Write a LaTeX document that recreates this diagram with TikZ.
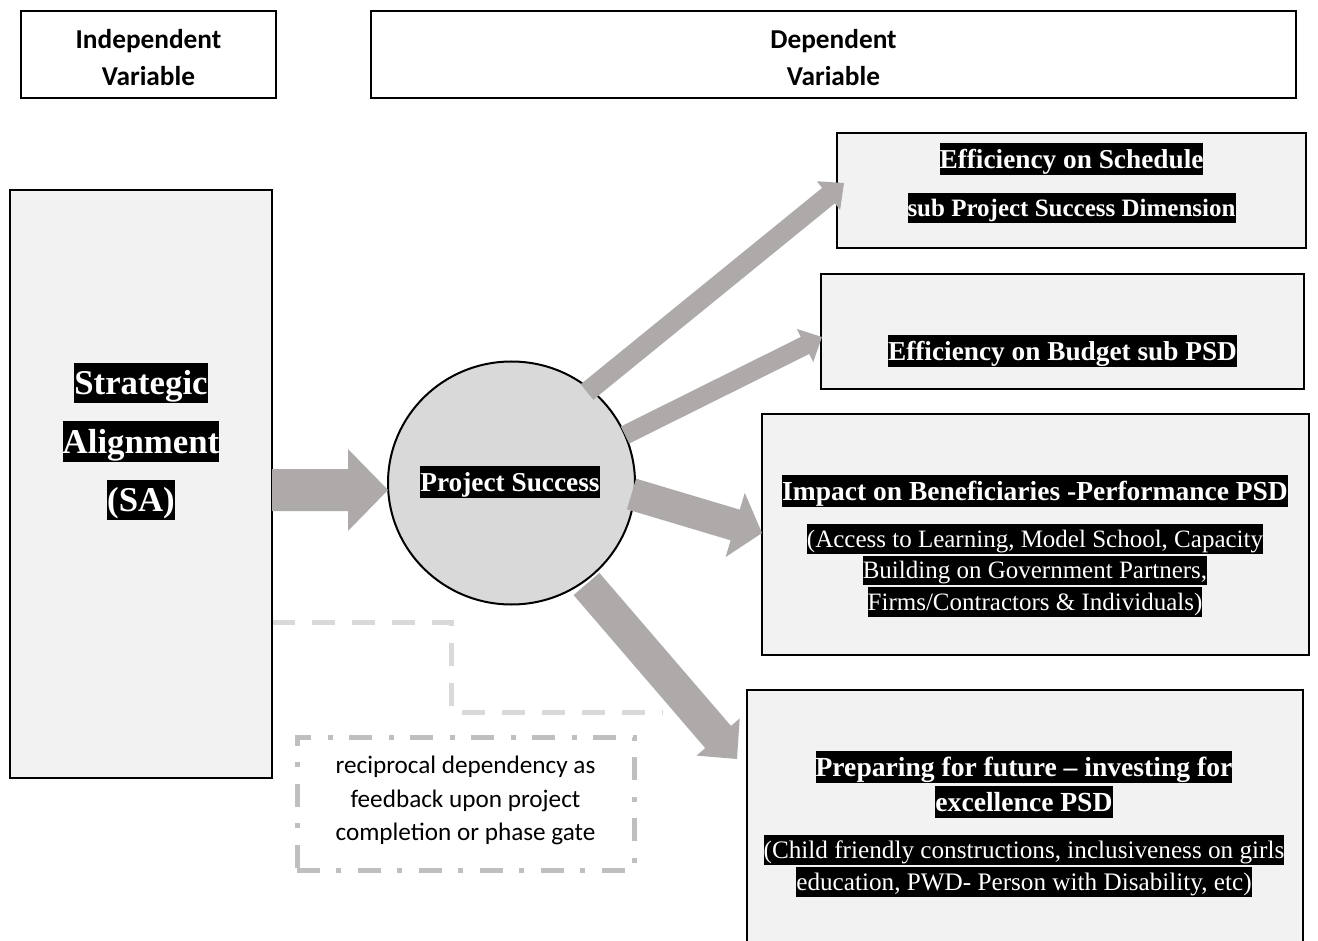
\documentclass[tikz,border=0pt]{standalone}
\usepackage{fontspec}
\setmainfont{Liberation Serif}
\newfontfamily\calfont{Carlito}
\usetikzlibrary{calc,shapes.geometric}

\definecolor{arrowgray}{HTML}{AEAAAA}
\definecolor{boxfill}{HTML}{F2F2F2}
\definecolor{circfill}{HTML}{D9D9D9}
\definecolor{dashgray}{HTML}{D9D9D9}
\definecolor{dotgray}{HTML}{BFBFBF}

% white text on a black highlight band, one band per line
\newcommand{\hl}[1]{{\setlength{\fboxsep}{0pt}\colorbox{black}{\textcolor{white}{\rule[-0.25em]{0pt}{1.17em}#1}}}}

% block arrow: start, tip, shaft half width, head half width, head length
\newcommand{\blockarrow}[5]{%
  \coordinate (ahb) at ($(#2)!#5!(#1)$);
  \fill[arrowgray] ($(#1)!#3!90:(#2)$) -- ($(ahb)!#3!90:(#2)$) -- ($(ahb)!#4!90:(#2)$)
    -- (#2) -- ($(ahb)!#4!-90:(#2)$) -- ($(ahb)!#3!-90:(#2)$) -- ($(#1)!#3!-90:(#2)$) -- cycle;
}

\tikzset{
  header/.style={draw=black, line width=1.4pt, fill=white, inner sep=0pt},
  psdbox/.style={draw=black, line width=1.6pt, fill=boxfill, inner sep=0pt},
  serifbold/.style={inner sep=0pt, align=center, font=\bfseries\fontsize{27.3}{35}\selectfont},
  serifplain/.style={inner sep=0pt, align=center, font=\fontsize{25}{31.5}\selectfont},
  sanslabel/.style={inner sep=0pt, align=center, font=\calfont\bfseries\fontsize{27.3}{37}\selectfont},
  feedback/.style={draw=dashgray, line width=5pt, dash pattern=on 23pt off 17pt},
  notebox/.style={draw=dotgray, line width=5pt, inner sep=0pt,
    dash pattern=on 23pt off 16pt on 5pt off 17pt},
}

\begin{document}
\begin{tikzpicture}[x=1pt, y=-1pt]
\useasboundingbox (0,0) rectangle (1318,941);

% column headers
\node[header, minimum width=255pt, minimum height=87pt] (ivbox) at (148.5,54.5) {};
\node[header, minimum width=925pt, minimum height=87pt] (dvbox) at (833.5,54.5) {};
\node[sanslabel] (ivtext) at (148.5,57.5) {Independent\\Variable};
\node[sanslabel] (dvtext) at (833.5,57.5) {Dependent\\Variable};

% feedback path and its note
\coordinate (fbA) at (272,622);
\coordinate (fbB) at (451,622);
\coordinate (fbC) at (451,712);
\coordinate (fbD) at (663,712);
\draw[feedback] (fbA) -- (fbB) -- (fbC) -- (fbD);
\node[notebox, minimum width=337pt, minimum height=133pt] (note) at (465.5,803.5) {};
\node[inner sep=0pt, align=center, font=\calfont\fontsize{25.2}{33.5}\selectfont] (notetext) at (465.5,800.5)
  {reciprocal dependency as\\feedback upon project\\completion or phase gate};

% independent variable
\node[psdbox, line width=1.8pt, minimum width=262pt, minimum height=588pt] (sa) at (141,484) {};

% project success dimensions
\node[psdbox, minimum width=469pt, minimum height=115pt] (sched) at (1071.5,190.5) {};
\node[psdbox, minimum width=483pt, minimum height=115pt] (budget) at (1062.5,331.5) {};
\node[psdbox, minimum width=547pt, minimum height=241pt] (impact) at (1035.5,534.5) {};
\node[psdbox, minimum width=556pt, minimum height=270pt] (prep) at (1025,825) {};

% central construct
\node[ellipse, draw=black, line width=2pt, fill=circfill, minimum width=247pt, minimum height=243pt, inner sep=0pt] (ps) at (511.5,483) {};

% arrow ends
\coordinate (saout) at (272,490);
\coordinate (psin) at (388,490);
\coordinate (psA) at (587,392);
\coordinate (schedin) at (844,183);
\coordinate (psB) at (625,435);
\coordinate (budgetin) at (822,337);
\coordinate (psC) at (631.5,494);
\coordinate (impactin) at (762,533);
\coordinate (psD) at (586.5,584);
\coordinate (prepin) at (737,759);

\blockarrow{saout}{psin}{21pt}{41pt}{40pt}
\blockarrow{psA}{schedin}{10pt}{18.5pt}{20pt}
\blockarrow{psB}{budgetin}{9.5pt}{18.5pt}{19pt}
\blockarrow{psC}{impactin}{16pt}{33.5pt}{28pt}
\blockarrow{psD}{prepin}{17pt}{28.5pt}{29pt}

% labels
\node[inner sep=0pt, align=center, font=\bfseries\fontsize{34.8}{58.5}\selectfont] (satext) at (141,441.5)
  {\hl{Strategic}\\\hl{Alignment}\\\hl{(SA)}};
\node[serifbold] (pstext) at (510,482) {\hl{Project Success}};
\node[serifbold] (schedtitle) at (1071.5,159) {\hl{Efficiency on Schedule}};
\node[serifbold, font=\bfseries\fontsize{25}{31}\selectfont] (schedsub) at (1071.5,208) {\hl{sub Project Success Dimension}};
\node[serifbold] (budgettitle) at (1062.5,351) {\hl{Efficiency on Budget sub PSD}};
\node[serifbold, font=\bfseries\fontsize{27.5}{33}\selectfont] (impacttitle) at (1035,491) {\hl{Impact on Beneficiaries -Performance PSD}};
\node[serifplain] (impactsub) at (1035,570.5)
  {\hl{(Access to Learning, Model School, Capacity}\\\hl{Building on Government Partners,}\\\hl{Firms/Contractors \& Individuals)}};
\node[serifbold, font=\bfseries\fontsize{27.6}{35}\selectfont] (preptitle) at (1024,784.5) {\hl{Preparing for future – investing for}\\\hl{excellence PSD}};
\node[serifplain, font=\fontsize{25.2}{32}\selectfont] (prepsub) at (1024,866)
  {\hl{(Child friendly constructions, inclusiveness on girls}\\\hl{education, PWD- Person with Disability, etc)}};
\end{tikzpicture}
\end{document}
